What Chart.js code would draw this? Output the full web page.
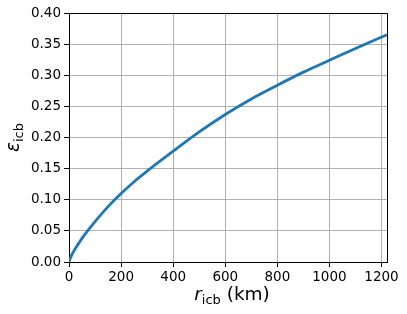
<!DOCTYPE html>
<html><head><meta charset="utf-8">
<script src="https://cdn.jsdelivr.net/npm/chart.js@4/dist/chart.umd.min.js"></script>
<style>html,body{margin:0;padding:0;background:#fff;overflow:hidden}#wrap{position:relative;width:407px;height:314px}</style>
</head><body><div id="wrap"><canvas id="c" width="407" height="314"></canvas></div>
<script>
// Data
const radiusKm = [0, 10, 25, 50, 75, 100, 150, 200, 250, 300, 400, 500, 600, 700, 800, 900, 1000, 1100, 1221];
const epsilonIcb = [0, 0.011, 0.022, 0.038, 0.052, 0.065, 0.089, 0.110, 0.129, 0.146, 0.178, 0.209, 0.237, 0.262, 0.284, 0.305, 0.324, 0.343, 0.365];
const xTickValues = [0, 200, 400, 600, 800, 1000, 1200];
const yTickValues = [0, 0.05, 0.10, 0.15, 0.20, 0.25, 0.30, 0.35, 0.40];
const xLimits = [0, 1221];
const yLimits = [0, 0.40];

const FONT = "'DejaVu Sans', sans-serif";

const labelPlugin = {
  id: 'labels',
  afterDraw(chart) {
    const ctx = chart.ctx;
    const a = chart.chartArea;
    ctx.save();
    ctx.strokeStyle = '#000';
    ctx.lineWidth = 1;
    ctx.beginPath();
    ctx.moveTo(Math.round(a.left) - 0.5, Math.round(a.top) + 0.5);
    ctx.lineTo(Math.round(a.right) + 0.5, Math.round(a.top) + 0.5);
    ctx.lineTo(Math.round(a.right) + 0.5, Math.round(a.bottom));
    ctx.stroke();

    ctx.fillStyle = '#000';
    ctx.textBaseline = 'alphabetic';
    const big = 18.5, small = 13;
    ctx.font = `oblique ${big}px ${FONT}`;
    const wR = ctx.measureText('r').width;
    ctx.font = `${small}px ${FONT}`;
    const wSub = ctx.measureText('icb').width;
    ctx.font = `${big}px ${FONT}`;
    const wRest = ctx.measureText(' (km)').width;
    const total = wR + wSub + wRest;
    let x = 232 - total / 2;
    const base = 300;
    ctx.font = `oblique ${big}px ${FONT}`;
    ctx.fillText('r', x, base); x += wR;
    ctx.font = `${small}px ${FONT}`;
    ctx.fillText('icb', x, base + 4); x += wSub;
    ctx.font = `${big}px ${FONT}`;
    ctx.fillText(' (km)', x, base);

    ctx.save();
    ctx.translate(18.5, 137.5);
    ctx.rotate(-Math.PI / 2);
    ctx.font = `oblique ${big}px ${FONT}`;
    const wE = ctx.measureText('ε').width;
    ctx.font = `${small}px ${FONT}`;
    const wS2 = ctx.measureText('icb').width;
    let y0 = -(wE + wS2) / 2;
    ctx.font = `oblique ${big}px ${FONT}`;
    ctx.fillText('ε', y0, 0); y0 += wE;
    ctx.font = `${small}px ${FONT}`;
    ctx.fillText('icb', y0, 4);
    ctx.restore();
    ctx.restore();
  }
};

new Chart(document.getElementById('c'), {
  type: 'line',
  data: {
    datasets: [{
      data: radiusKm.map((r, i) => ({x: r, y: epsilonIcb[i]})),
      borderColor: '#1f77b4',
      borderWidth: 2.8,
      pointRadius: 0,
      fill: false,
      cubicInterpolationMode: 'monotone'
    }]
  },
  options: {
    responsive: false,
    devicePixelRatio: 1,
    animation: false,
    layout: {padding: {left: 0, right: 20, top: 13, bottom: 0}},
    plugins: {legend: {display: false}, tooltip: {enabled: false}},
    scales: {
      x: {
        type: 'linear',
        min: xLimits[0], max: xLimits[1],
        afterBuildTicks: s => { s.ticks = xTickValues.map(v => ({value: v})); },
        afterFit: s => { s.height = 52; },
        ticks: {color: '#000', font: {family: FONT, size: 13.5}, padding: 2, maxRotation: 0, callback: v => String(v)},
        grid: {color: '#b0b0b0', lineWidth: 1, tickColor: '#000', tickLength: 5},
        border: {color: '#000', width: 1}
      },
      y: {
        type: 'linear',
        min: yLimits[0], max: yLimits[1],
        afterBuildTicks: s => { s.ticks = yTickValues.map(v => ({value: v})); },
        afterFit: s => { s.width = 69; },
        ticks: {color: '#000', font: {family: FONT, size: 13.5}, padding: 3, callback: v => v.toFixed(2)},
        grid: {color: '#b0b0b0', lineWidth: 1, tickColor: '#000', tickLength: 5},
        border: {color: '#000', width: 1}
      }
    }
  },
  plugins: [labelPlugin]
});
</script>
</body></html>
